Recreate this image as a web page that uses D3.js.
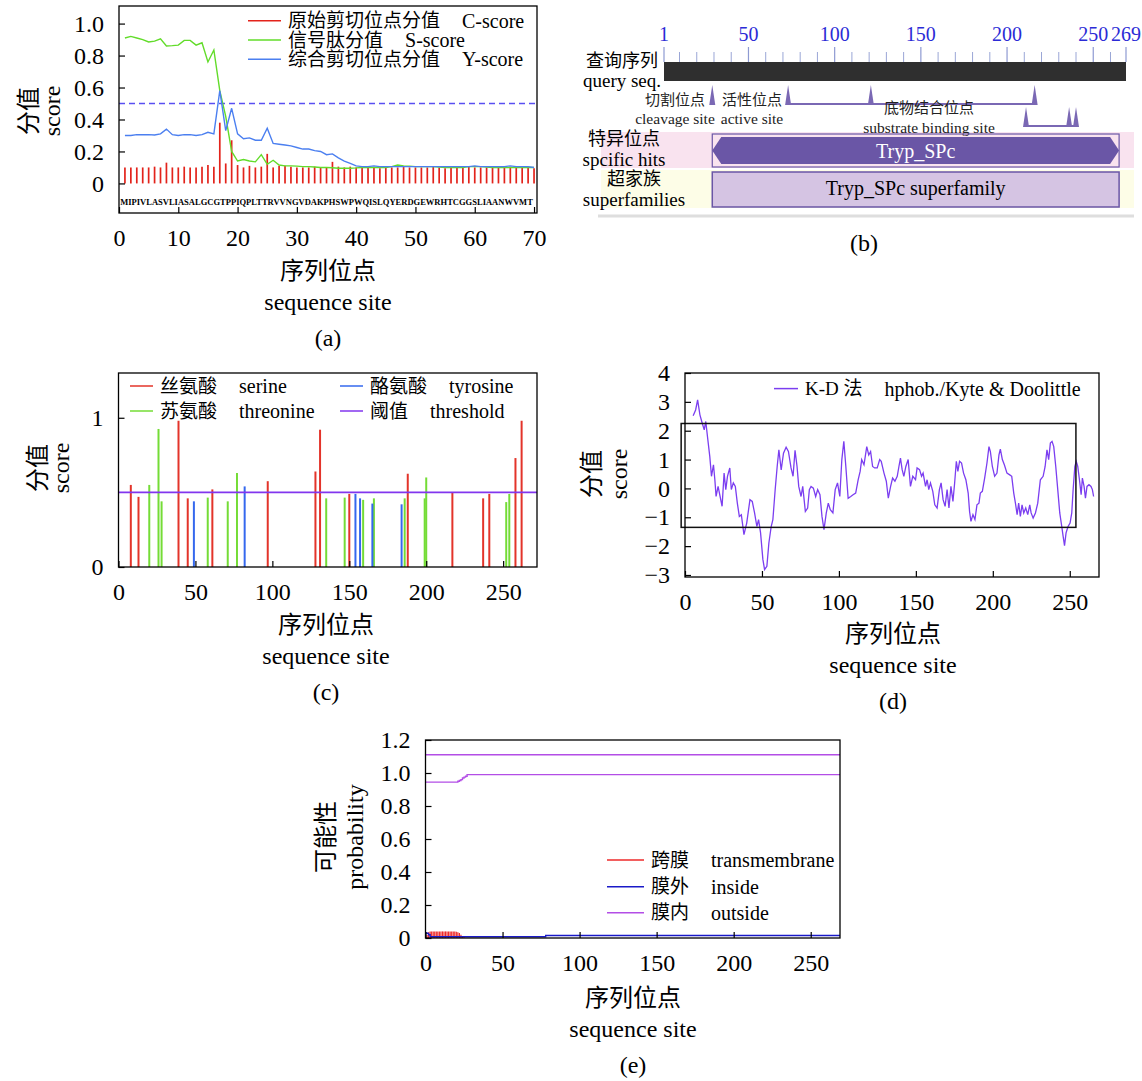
<!DOCTYPE html>
<html>
<head>
<meta charset="utf-8">
<script src="https://cdn.jsdelivr.net/npm/d3@7"></script>
<style>
  body { margin: 0; background: #fff; }
</style>
</head>
<body>
<script>
// ---------- (a) SignalP ----------
const sequence = 'MIPIVLASVLIASALGCGTPPIQPLTTRVVNGVDAKPHSWPWQISLQYERDGEWRHTCGGSLIAANWVMT';
const cScore = [0.10,0.10,0.10,0.10,0.10,0.105,0.10,0.13,0.10,0.10,
  0.105,0.10,0.10,0.105,0.115,0.105,0.38,0.125,0.27,0.115,
  0.10,0.11,0.10,0.105,0.185,0.10,0.11,0.11,0.105,0.10,
  0.10,0.10,0.105,0.10,0.10,0.135,0.105,0.10,0.105,0.10,
  0.10,0.10,0.10,0.095,0.10,0.10,0.10,0.105,0.10,0.10,
  0.10,0.10,0.105,0.10,0.095,0.10,0.10,0.10,0.105,0.10,
  0.10,0.10,0.10,0.10,0.105,0.10,0.10,0.10,0.10,0.095];
const sScore = [0.91,0.92,0.91,0.90,0.885,0.89,0.905,0.86,0.862,0.865,
  0.895,0.895,0.865,0.88,0.76,0.835,0.58,0.42,0.20,0.14,
  0.15,0.14,0.135,0.18,0.12,0.145,0.115,0.11,0.11,0.108,
  0.105,0.105,0.103,0.10,0.10,0.098,0.095,0.095,0.095,0.097,
  0.10,0.10,0.10,0.10,0.10,0.105,0.115,0.11,0.108,0.105,
  0.105,0.105,0.105,0.103,0.10,0.10,0.10,0.10,0.105,0.105,
  0.105,0.103,0.10,0.10,0.10,0.10,0.10,0.10,0.10,0.10];
const yScore = [0.30,0.30,0.305,0.305,0.305,0.303,0.31,0.34,0.305,0.30,
  0.305,0.305,0.30,0.305,0.32,0.31,0.58,0.33,0.47,0.31,
  0.28,0.285,0.27,0.27,0.345,0.25,0.245,0.24,0.235,0.225,
  0.215,0.215,0.205,0.20,0.18,0.185,0.16,0.14,0.125,0.11,
  0.105,0.105,0.11,0.105,0.105,0.105,0.105,0.105,0.105,0.105,
  0.105,0.105,0.105,0.105,0.105,0.105,0.105,0.105,0.105,0.11,
  0.105,0.105,0.105,0.105,0.105,0.11,0.105,0.105,0.105,0.10];
const signalThreshold = 0.5;
const aXTicks = [0, 10, 20, 30, 40, 50, 60, 70];
const aYTicks = [0, 0.2, 0.4, 0.6, 0.8, 1.0];

// ---------- (b) CD-search ----------
const rulerLabels = [1, 50, 100, 150, 200, 250, 269];
const rulerMinor = [10,20,30,40,60,70,80,90,110,120,130,140,160,170,180,190,210,220,230,240,260];
const cleavageSites = [29];
const activeSites = [73, 121, 216];
const substrateSites = [211, 236, 240];
const domainSpan = [29, 265];

// ---------- (c) phosphorylation ----------
const serineSite = [8,13,39,45,61,97,128,131,150,188,217,237,241,258,262];
const serineScore = [0.55,0.47,0.98,0.46,0.52,0.575,0.64,0.92,0.49,0.625,0.50,0.46,0.49,0.73,0.98];
const threonineSite = [20,26,28,58,71,77,135,147,159,166,186,199,200,252,254];
const threonineScore = [0.55,0.925,0.44,0.465,0.44,0.63,0.46,0.465,0.45,0.46,0.46,0.46,0.60,0.435,0.49];
const tyrosineSite = [49,82,154,157,165,184];
const tyrosineScore = [0.44,0.54,0.49,0.46,0.425,0.42];
const phosThreshold = 0.5;
const cXTicks = [0, 50, 100, 150, 200, 250];
const cYTicks = [0, 1];

// ---------- (d) Kyte & Doolittle ----------
const kdSite = [5.3,6.9,8.2,9.7,11.2,12.5,13.5,14.6,16.1,17.2,18.5,19.4,20.2,21.5,22.6,24.1,25.4,26.5,27.6,29.1,
  30.1,31.4,32.7,34.0,35.3,36.6,38.3,40.1,42.2,43.7,45.2,46.7,47.8,49.1,50.6,51.7,53.2,54.5,56.0,57.1,
  58.6,59.9,61.0,62.5,64.0,65.7,67.2,68.9,70.2,71.5,72.8,73.9,75.4,76.5,78.2,79.7,80.8,81.9,83.4,84.9,
  86.2,87.7,89.0,90.3,91.8,93.1,94.4,96.1,97.6,99.1,100.6,101.9,103.2,104.5,106.0,107.7,109.2,110.9,112.5,113.8,
  114.8,116.3,118.1,119.4,120.6,121.9,123.2,124.9,126.5,127.5,129.3,130.8,132.1,133.6,134.9,136.4,137.9,139.2,140.0,141.1,
  142.2,143.5,145.0,146.5,148.0,149.8,150.8,152.4,153.7,154.7,156.3,157.3,158.4,159.5,161.0,162.3,163.8,165.3,166.4,167.7,
  169.0,170.3,171.5,172.8,174.1,175.2,176.3,177.3,178.4,179.7,181.0,182.5,184.0,184.9,185.8,187.1,188.4,189.7,191.0,191.9,
  193.2,194.7,196.2,197.5,198.4,199.7,201.2,202.7,204.0,204.9,206.2,207.5,209.2,211.0,212.3,213.6,214.7,215.8,216.8,217.9,
  219.0,220.1,221.4,222.7,224.0,224.9,226.2,227.7,229.2,230.9,232.7,234.0,235.2,236.3,237.4,238.5,239.6,240.9,242.2,243.5,
  244.8,245.7,246.6,247.6,248.9,250.2,251.3,252.2,253.3,254.2,255.2,256.3,257.4,258.2,259.3,260.2,261.2,262.5,263.8,264.7,265.5];
const kdScore = [2.52,2.72,3.07,2.55,2.26,2.03,2.32,1.80,1.11,0.42,0.82,0.30,-0.28,0.07,-0.22,-0.62,0.53,-0.04,0.42,0.71,
  -0.04,0.19,0.07,-0.51,-0.97,-0.91,-1.60,-1.20,-0.39,-0.45,-0.85,-1.32,-1.08,-1.54,-2.46,-2.81,-2.70,-1.89,-1.32,-1.08,
  -0.04,0.76,1.34,0.64,1.22,1.43,1.28,0.71,0.42,1.32,0.76,0.07,-0.28,0.07,-0.80,-0.68,-0.04,0.07,0.01,-0.28,
  -0.04,-0.22,-0.97,-1.43,-0.85,-0.51,-0.74,-0.85,-0.04,0.19,-0.28,1.00,1.63,0.76,-0.34,-0.28,-0.22,-0.16,0.30,0.59,
  1.00,0.82,1.45,1.16,1.28,0.76,0.71,0.71,1.00,0.94,0.53,0.25,-0.34,0.07,0.36,0.25,0.42,0.82,1.05,0.65,
  0.42,0.76,1.00,0.07,0.42,0.30,0.71,0.65,0.42,0.53,0.07,0.30,-0.04,0.19,-0.10,-0.57,-0.68,-0.04,0.19,-0.39,
  -0.62,-0.04,-0.68,0.07,-0.45,0.19,0.94,0.59,0.94,0.88,0.53,0.30,-0.16,-0.80,-1.14,-0.91,-1.08,-0.57,-0.51,-0.16,
  -0.10,0.36,0.88,1.45,1.28,0.76,0.42,0.53,1.16,1.36,1.00,0.82,0.53,0.47,0.42,-0.16,-0.51,-0.91,-0.51,-0.97,
  -0.57,-0.85,-0.68,-0.91,-0.57,-0.85,-1.03,-0.85,-0.51,0.30,0.42,0.76,1.34,1.00,1.57,1.63,1.45,0.76,-0.04,-0.85,
  -1.32,-1.66,-1.98,-1.54,-1.32,-1.20,-0.85,-0.04,0.76,0.94,0.76,0.30,-0.22,0.36,0.07,-0.34,0.07,0.13,0.07,-0.04,-0.28];
const kdBoxSite = [-2.5, 254];
const kdBoxScore = [-1.35, 2.25];
const dXTicks = [0, 50, 100, 150, 200, 250];
const dYTicks = [-3, -2, -1, 0, 1, 2, 3, 4];

// ---------- (e) TMHMM ----------
const outsideSite = [0, 20, 21, 22, 23, 24, 25, 26, 27, 269];
const outsideProb = [0.945, 0.945, 0.95, 0.955, 0.96, 0.97, 0.975, 0.98, 0.99, 0.99];
const topologySpan = [0, 269];
const topologyLevel = 1.11;
const insideSite = [0, 1, 2, 3, 77, 78, 269];
const insideProb = [0.03, 0.028, 0.02, 0.008, 0.008, 0.015, 0.015];
const tmSite = d3.range(1, 26);
const tmProb = [0.02,0.035,0.04,0.04,0.04,0.04,0.04,0.04,0.04,0.04,0.04,0.04,0.04,0.04,0.04,0.04,0.04,0.04,0.04,
  0.038,0.035,0.03,0.02,0.012,0.005];
const eXTicks = [0, 50, 100, 150, 200, 250];
const eYTicks = [0, 0.2, 0.4, 0.6, 0.8, 1.0, 1.2];

// ---------- helpers ----------
const FONT = '"Liberation Serif", "Times New Roman", "Noto Sans CJK SC", serif';
const svg = d3.select('body').append('svg')
  .attr('width', 1142).attr('height', 1081)
  .style('font-family', FONT);

function label(g, x, y, str, size, anchor, fill) {
  return g.append('text')
    .attr('x', x).attr('y', y).attr('dy', '0.35em')
    .attr('font-size', size)
    .attr('text-anchor', anchor || 'middle')
    .attr('fill', fill || '#000')
    .text(str);
}

function yTitle(g, xZh, xEn, cy, zh, en) {
  [[xZh, zh], [xEn, en]].forEach(function (p) {
    g.append('text')
      .attr('transform', `translate(${p[0]},${cy}) rotate(-90)`)
      .attr('dy', '0.35em').attr('text-anchor', 'middle')
      .attr('font-size', 24).text(p[1]);
  });
}

function xTitle(g, cx, y, tag) {
  label(g, cx, y, '序列位点', 24);
  label(g, cx, y + 31, 'sequence site', 24);
  label(g, cx, y + 67, tag, 24);
}

function legendRow(g, x, y, len, color, zh, en) {
  g.append('line')
    .attr('x1', x).attr('x2', x + len).attr('y1', y).attr('y2', y)
    .attr('stroke', color).attr('stroke-width', 1.5);
  const t = label(g, x + len + 7, y, zh, 19, 'start');
  const w = t.node().getComputedTextLength();
  label(g, x + len + 7 + w + 22, y, en, 20, 'start');
}

function fmt1(d) { return d === 0 ? '0' : d.toFixed(1); }

function drawAxes(g, xs, ys, xTicks, yTicks, yFmt) {
  const xa = g.append('g')
    .attr('transform', `translate(0,${ys.range()[0]})`)
    .call(d3.axisBottom(xs).tickValues(xTicks).tickSizeInner(-6).tickSizeOuter(0).tickPadding(16));
  const ya = g.append('g')
    .attr('transform', `translate(${xs.range()[0]},0)`)
    .call(d3.axisLeft(ys).tickValues(yTicks).tickFormat(yFmt).tickSizeInner(-6).tickSizeOuter(0).tickPadding(15));
  [xa, ya].forEach(function (a) {
    a.attr('font-family', FONT).attr('font-size', 24);
    a.select('.domain').remove();
    a.selectAll('line').attr('stroke', '#000').attr('stroke-width', 1.2);
    a.selectAll('text').attr('fill', '#000');
  });
  g.append('rect')
    .attr('x', xs.range()[0]).attr('y', ys.range()[1])
    .attr('width', xs.range()[1] - xs.range()[0])
    .attr('height', ys.range()[0] - ys.range()[1])
    .attr('fill', 'none').attr('stroke', '#000').attr('stroke-width', 1.3);
}

// ---------- panel (a) ----------
const ga = svg.append('g');
const ax = d3.scaleLinear().domain([0, 70.5]).range([119, 537]);
const ay = d3.scaleLinear().domain([-0.185, 1.11]).range([213, 6]);

ga.append('g').selectAll('line').data(cScore).join('line')
  .attr('x1', (d, i) => ax(i + 1)).attr('x2', (d, i) => ax(i + 1))
  .attr('y1', ay(0)).attr('y2', d => ay(d))
  .attr('stroke', '#e3231b').attr('stroke-width', 1.7);

ga.append('line')
  .attr('x1', ax.range()[0]).attr('x2', ax.range()[1])
  .attr('y1', ay(signalThreshold)).attr('y2', ay(signalThreshold))
  .attr('stroke', '#5a4ff2').attr('stroke-width', 1.3).attr('stroke-dasharray', '6,4');

const lineA = d3.line().x((d, i) => ax(i + 1)).y(d => ay(d));
ga.append('path').datum(sScore).attr('d', lineA)
  .attr('fill', 'none').attr('stroke', '#62dc2a').attr('stroke-width', 1.4);
ga.append('path').datum(yScore).attr('d', lineA)
  .attr('fill', 'none').attr('stroke', '#4b7ff0').attr('stroke-width', 1.4);

// residue string spread over the sequence positions
ga.append('text')
  .attr('x', ax(0.2)).attr('y', 202).attr('dy', '0.35em')
  .attr('font-size', 9).attr('font-weight', 'bold')
  .attr('textLength', ax(sequence.length - 0.2) - ax(0.2))
  .attr('lengthAdjust', 'spacingAndGlyphs')
  .text(sequence);

drawAxes(ga, ax, ay, aXTicks, aYTicks, fmt1);
legendRow(ga, 248, 20.7, 33, '#e3231b', '原始剪切位点分值', 'C-score');
legendRow(ga, 248, 40, 33, '#62dc2a', '信号肽分值', 'S-score');
legendRow(ga, 248, 59.3, 33, '#4b7ff0', '综合剪切位点分值', 'Y-score');
yTitle(ga, 29, 52, 111, '分值', 'score');
xTitle(ga, 328, 271, '(a)');

// ---------- panel (b) ----------
const gb = svg.append('g');
const bx = d3.scaleLinear().domain([1, 269]).range([664, 1126]);
const purple = '#6a56a6';

gb.append('rect').attr('x', 601).attr('y', 132).attr('width', 533).attr('height', 36).attr('fill', '#f9e3ef');
gb.append('rect').attr('x', 601).attr('y', 170).attr('width', 533).attr('height', 38).attr('fill', '#fdfde7');
gb.append('line').attr('x1', 598).attr('x2', 1134).attr('y1', 216).attr('y2', 216)
  .attr('stroke', '#dedede').attr('stroke-width', 3);

gb.append('g').selectAll('line').data(rulerMinor).join('line')
  .attr('x1', d => bx(d)).attr('x2', d => bx(d)).attr('y1', 52).attr('y2', 62)
  .attr('stroke', '#9aa6d6').attr('stroke-width', 1);
gb.append('g').selectAll('line').data(rulerLabels).join('line')
  .attr('x1', d => bx(d)).attr('x2', d => bx(d)).attr('y1', 47).attr('y2', 62)
  .attr('stroke', '#8e9ad2').attr('stroke-width', 1.2);
gb.append('g').selectAll('text').data(rulerLabels).join('text')
  .attr('x', d => bx(d)).attr('y', 34).attr('dy', '0.35em')
  .attr('text-anchor', 'middle').attr('font-size', 20).attr('fill', '#2b2bd6')
  .text(d => d);

gb.append('rect').attr('x', bx(1)).attr('y', 62).attr('width', bx(269) - bx(1)).attr('height', 19)
  .attr('fill', '#2f2f2f');

function spikes(sites, top, base) {
  gb.append('g').selectAll('path').data(sites).join('path')
    .attr('d', d => `M${bx(d) - 3},${base}L${bx(d)},${top}L${bx(d) + 3},${base}Z`)
    .attr('fill', '#7a68b4');
  if (sites.length > 1) {
    gb.append('line')
      .attr('x1', bx(d3.min(sites))).attr('x2', bx(d3.max(sites)))
      .attr('y1', base - 1).attr('y2', base - 1)
      .attr('stroke', '#7a68b4').attr('stroke-width', 2);
  }
}
spikes(cleavageSites, 85, 105);
spikes(activeSites, 85, 105);
spikes(substrateSites, 107, 127);

label(gb, 675, 100, '切割位点', 15, 'middle', '#222');
label(gb, 675, 119, 'cleavage site', 15.5, 'middle', '#222');
label(gb, 752, 100, '活性位点', 15, 'middle', '#222');
label(gb, 752, 119, 'active site', 15.5, 'middle', '#222');
label(gb, 929, 108, '底物结合位点', 15, 'middle', '#222');
label(gb, 929, 128, 'substrate binding site', 15.5, 'middle', '#222');

const dx0 = bx(domainSpan[0]), dx1 = bx(domainSpan[1]);
gb.append('rect').attr('x', dx0).attr('y', 134).attr('width', dx1 - dx0).attr('height', 33)
  .attr('fill', 'none').attr('stroke', purple).attr('stroke-width', 1.2);
gb.append('path')
  .attr('d', `M${dx0},150.5L${dx0 + 9},137L${dx1 - 9},137L${dx1},150.5L${dx1 - 9},164L${dx0 + 9},164Z`)
  .attr('fill', purple);
label(gb, (dx0 + dx1) / 2, 150.5, 'Tryp_SPc', 20, 'middle', '#fff');

gb.append('rect').attr('x', dx0).attr('y', 172).attr('width', dx1 - dx0).attr('height', 35)
  .attr('fill', '#d5c4e3').attr('stroke', purple).attr('stroke-width', 1.5);
label(gb, (dx0 + dx1) / 2, 188, 'Tryp_SPc superfamily', 20);

label(gb, 622, 60.5, '查询序列', 18);
label(gb, 622, 80.5, 'query seq.', 19);
label(gb, 624, 139, '特异位点', 18);
label(gb, 624, 159.5, 'spcific hits', 19);
label(gb, 634, 179, '超家族', 18);
label(gb, 634, 199.5, 'superfamilies', 19);
label(gb, 864, 243, '(b)', 24);

// ---------- panel (c) ----------
const gc = svg.append('g');
const cx = d3.scaleLinear().domain([0, 272]).range([118.5, 537]);
const cy = d3.scaleLinear().domain([0, 1.3]).range([567, 373]);

function phosBars(sites, scores, color) {
  gc.append('g').selectAll('line').data(sites).join('line')
    .attr('x1', d => cx(d)).attr('x2', d => cx(d))
    .attr('y1', cy(0)).attr('y2', (d, i) => cy(scores[i]))
    .attr('stroke', color).attr('stroke-width', 2);
}
phosBars(serineSite, serineScore, '#e3342a');
phosBars(threonineSite, threonineScore, '#74dc36');
phosBars(tyrosineSite, tyrosineScore, '#3568ee');
gc.append('line')
  .attr('x1', cx.range()[0]).attr('x2', cx.range()[1])
  .attr('y1', cy(phosThreshold)).attr('y2', cy(phosThreshold))
  .attr('stroke', '#8236ee').attr('stroke-width', 1.6);

drawAxes(gc, cx, cy, cXTicks, cYTicks, d3.format('d'));
legendRow(gc, 130, 386, 23, '#e3342a', '丝氨酸', 'serine');
legendRow(gc, 130, 411, 23, '#74dc36', '苏氨酸', 'threonine');
legendRow(gc, 340, 386, 23, '#3568ee', '酪氨酸', 'tyrosine');
legendRow(gc, 340, 411, 23, '#8236ee', '阈值', 'threshold');
yTitle(gc, 38, 61, 468, '分值', 'score');
xTitle(gc, 326, 625, '(c)');

// ---------- panel (d) ----------
const gd = svg.append('g');
const dxs = d3.scaleLinear().domain([0, 269]).range([685, 1099]);
const dys = d3.scaleLinear().domain([-3.07, 4]).range([577, 373]);

gd.append('path').datum(kdSite)
  .attr('d', d3.line().x(d => dxs(d)).y((d, i) => dys(kdScore[i])))
  .attr('fill', 'none').attr('stroke', '#7b3ef0').attr('stroke-width', 1.3);
gd.append('rect')
  .attr('x', dxs(kdBoxSite[0])).attr('y', dys(kdBoxScore[1]))
  .attr('width', dxs(kdBoxSite[1]) - dxs(kdBoxSite[0]))
  .attr('height', dys(kdBoxScore[0]) - dys(kdBoxScore[1]))
  .attr('fill', 'none').attr('stroke', '#111').attr('stroke-width', 1.5);

drawAxes(gd, dxs, dys, dXTicks, dYTicks, d3.format('d'));
legendRow(gd, 774, 388.6, 24, '#7b3ef0', 'K-D 法', 'hphob./Kyte & Doolittle');
yTitle(gd, 592, 619, 474, '分值', 'score');
xTitle(gd, 893, 634, '(d)');

// ---------- panel (e) ----------
const ge = svg.append('g');
const ex = d3.scaleLinear().domain([0, 269]).range([425.5, 840]);
const ey = d3.scaleLinear().domain([0, 1.2]).range([938, 740]);

ge.append('g').selectAll('line').data(tmSite).join('line')
  .attr('x1', d => ex(d)).attr('x2', d => ex(d))
  .attr('y1', ey(0)).attr('y2', (d, i) => ey(tmProb[i]))
  .attr('stroke', '#ee2a2a').attr('stroke-width', 1.2);
ge.append('line')
  .attr('x1', ex(topologySpan[0])).attr('x2', ex(topologySpan[1]))
  .attr('y1', ey(topologyLevel)).attr('y2', ey(topologyLevel))
  .attr('stroke', '#b34ee6').attr('stroke-width', 1.5);
ge.append('path').datum(outsideSite)
  .attr('d', d3.line().curve(d3.curveStepAfter).x(d => ex(d)).y((d, i) => ey(outsideProb[i])))
  .attr('fill', 'none').attr('stroke', '#b34ee6').attr('stroke-width', 1.4);
ge.append('path').datum(insideSite)
  .attr('d', d3.line().curve(d3.curveStepAfter).x(d => ex(d)).y((d, i) => ey(insideProb[i])))
  .attr('fill', 'none').attr('stroke', '#1a1ac8').attr('stroke-width', 1.4);

drawAxes(ge, ex, ey, eXTicks, eYTicks, fmt1);
legendRow(ge, 607, 860, 37, '#ee2a2a', '跨膜', 'transmembrane');
legendRow(ge, 607, 886.7, 37, '#1a1ac8', '膜外', 'inside');
legendRow(ge, 607, 912.7, 37, '#b34ee6', '膜内', 'outside');
yTitle(ge, 326, 355, 837, '可能性', 'probability');
xTitle(ge, 633, 998, '(e)');
</script>
</body>
</html>
